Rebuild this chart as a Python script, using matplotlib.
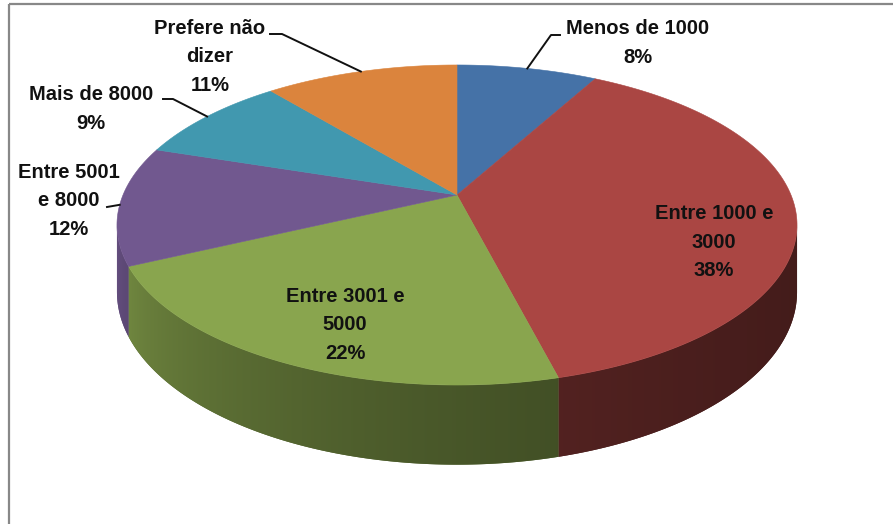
import numpy as np
import matplotlib
matplotlib.use("Agg")
import matplotlib.pyplot as plt
from matplotlib.patches import Polygon
from matplotlib.colors import to_rgb

# ---------------- data ----------------
categories = ["Menos de 1000", "Entre 1000 e\n3000", "Entre 3001 e\n5000",
              "Entre 5001\ne 8000", "Mais de 8000", "Prefere não\ndizer"]
percents = [8, 38, 22, 12, 9, 11]
colors = ["#4572A7", "#AA4643", "#89A54E", "#71588F", "#4198AF", "#DB843D"]

# label layout (block centres, pixels) and leader lines
label_pos = [(638, 43), (714, 242), (345, 325), (69, 201), (91, 109), (210, 57)]
leader_elbow = [(551, 35), None, None, None, (173, 99), (282, 34)]
leader_end = [(560, 35), None, None, (107, 207), (163, 99), (270, 34)]

# ---------------- geometry (perspective disk) ----------------
CX, CY = 457.0, 195.0     # projected centre of pie
A, E, K = 334.0, 154.4, 0.1875
D = 64.7                  # thickness

def proj(phi, drop=False):
    r = np.radians(phi)
    u, v = np.cos(r), np.sin(r)
    w = 1 + K * v
    x = CX + A * u / w
    y = CY - E * v / w
    if drop:
        y = y + D / w
    return x, y

W, H = 893, 524
fig = plt.figure(figsize=(W / 100, H / 100), dpi=100)
ax = fig.add_axes([0, 0, 1, 1])
ax.set_xlim(0, W)
ax.set_ylim(H, 0)
ax.axis("off")

# frame lines (top and left)
ax.plot([8.5, W], [3.5, 3.5], color="#888888", lw=1.6, solid_capstyle="butt")
ax.plot([8.5, 8.5], [3.5, H], color="#888888", lw=1.6, solid_capstyle="butt")

total = float(sum(percents))
starts, ends = [], []
a = 90.0
for p in percents:
    starts.append(a)
    a -= 360.0 * p / total
    ends.append(a)

vis_hi, vis_lo = -np.degrees(np.arcsin(K)), -180 + np.degrees(np.arcsin(K))

def shade(phi):
    t = np.clip((-phi - 10.0) / 160.0, 0, 1)
    return 0.40 + 0.50 * t ** 2

# x -> phi along the visible front arc
arc_phi = np.linspace(vis_lo, vis_hi, 2000)
arc_x = np.array([proj(p)[0] for p in arc_phi])

# side faces with a horizontal gradient clipped to each face
for s, e, c in zip(starts, ends, colors):
    hi = min(s, vis_hi)
    lo = max(e, vis_lo)
    if hi <= lo:
        continue
    base = np.array(to_rgb(c))
    phis = np.linspace(hi, lo, 300)
    top = [proj(p) for p in phis]
    bot = [proj(p, True) for p in phis[::-1]]
    pts = top + bot
    poly = Polygon(pts, closed=True, facecolor=base * shade(0.5 * (hi + lo)),
                   edgecolor="none", zorder=2)
    ax.add_patch(poly)
    xs = np.array([q[0] for q in pts])
    ys = np.array([q[1] for q in pts])
    x0, x1 = xs.min() - 1, xs.max() + 1
    y0, y1 = ys.min() - 1, ys.max() + 1
    gx = np.linspace(x0, x1, 400)
    gphi = np.interp(gx, arc_x, arc_phi)
    row = np.clip(base[None, :] * shade(gphi)[:, None], 0, 1)
    img = np.repeat(row[None, :, :], 2, axis=0)
    im = ax.imshow(img, extent=(x0, x1, y1, y0), aspect="auto",
                   interpolation="bilinear", zorder=2.1)
    im.set_clip_path(poly)

ax.set_xlim(0, W)
ax.set_ylim(H, 0)

# top faces
for s, e, c in zip(starts, ends, colors):
    phis = np.linspace(s, e, 200)
    pts = [(CX, CY)] + [proj(p) for p in phis]
    ax.add_patch(Polygon(pts, closed=True, facecolor=c, edgecolor=c,
                         lw=0.4, zorder=3))

# labels
for i, (cat, p) in enumerate(zip(categories, percents)):
    txt = f"{cat}\n{p}%"
    x, y = label_pos[i]
    ax.text(x, y, txt, ha="center", va="center", fontsize=14.5,
            fontweight="bold", color="#111111", linespacing=1.62,
            family=["Liberation Sans", "DejaVu Sans"], zorder=5)
    if leader_end[i] is not None:
        mid = 0.5 * (starts[i] + ends[i])
        rx, ry = proj(mid)
        xs, ys = [rx], [ry]
        if leader_elbow[i] is not None:
            xs.append(leader_elbow[i][0]); ys.append(leader_elbow[i][1])
        xs.append(leader_end[i][0]); ys.append(leader_end[i][1])
        ax.plot(xs, ys, color="#111111", lw=1.4, zorder=4)

fig.savefig("out.png", dpi=100)
